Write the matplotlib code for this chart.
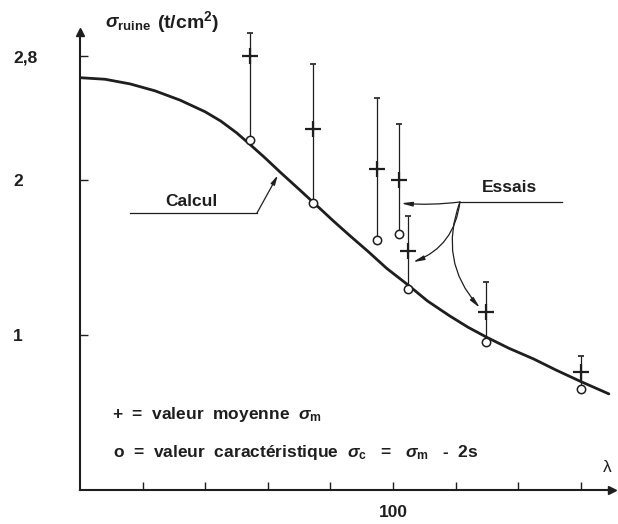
import matplotlib
matplotlib.use("Agg")
from matplotlib import pyplot as plt

plt.rcParams['font.family'] = ['Liberation Sans', 'DejaVu Sans']
plt.rcParams['font.weight'] = 'bold'
plt.rcParams['mathtext.fontset'] = 'custom'
plt.rcParams['mathtext.rm'] = 'Liberation Sans:bold'
plt.rcParams['mathtext.it'] = 'Liberation Sans:italic'
plt.rcParams['mathtext.bf'] = 'Liberation Sans:bold'

ink = '#1e1e1e'
fs = 12.5

# courbe "Calcul" (lambda, sigma ruine)
calc_lam = [0, 8, 16, 24, 32, 40, 45, 50, 54, 59, 64, 70, 77, 81, 86, 92, 98, 105, 111, 118, 124, 130, 137, 145, 152, 160, 169]
calc_sig = [2.66, 2.65, 2.62, 2.575, 2.515, 2.44, 2.38, 2.305, 2.235, 2.145, 2.05, 1.94, 1.81, 1.735, 1.645, 1.54, 1.43, 1.32, 1.22, 1.125, 1.05, 0.985, 0.915, 0.845, 0.775, 0.70, 0.62]

# essais
ess_lam = [54.3, 74.4, 94.9, 101.9, 104.8, 129.7, 160.1]
ess_moy = [2.80, 2.33, 2.07, 2.00, 1.54, 1.15, 0.76]   # +
ess_car = [2.26, 1.85, 1.61, 1.65, 1.30, 0.955, 0.65]  # o
ess_max = [2.95, 2.75, 2.53, 2.36, 1.77, 1.34, 0.865]

x_ticks = [20, 40, 60, 80, 100, 120, 140, 160]
x_labels = ['', '', '', '', '100', '', '', '']
y_ticks = [1, 2, 2.8]
y_labels = ['1', '2', '2,8']

fig = plt.figure(figsize=(6.18, 5.24), dpi=100)
ax = fig.add_axes([80/618, 34/524, 532/618, 458/524])
ax.set_xlim(0, 170)
ax.set_ylim(0, 458/155)

for s in ['top', 'right']:
    ax.spines[s].set_visible(False)
for s in ['left', 'bottom']:
    ax.spines[s].set_linewidth(1.5)
    ax.spines[s].set_color(ink)
ax.plot(1, 0, '>', color=ink, ms=6, transform=ax.transAxes, clip_on=False)
ax.plot(0, 1, '^', color=ink, ms=6, transform=ax.transAxes, clip_on=False)

ax.set_xticks(x_ticks)
ax.set_xticklabels(x_labels, fontsize=fs)
ax.set_yticks(y_ticks)
ax.set_yticklabels(y_labels, fontsize=fs)
ax.tick_params(axis='x', direction='in', length=6, width=1, color=ink, pad=11, labelcolor=ink)
ax.tick_params(axis='y', direction='in', length=6, width=1, color=ink, pad=48, labelcolor=ink)
for lab in ax.get_yticklabels():
    lab.set_horizontalalignment('left')

ax.plot(calc_lam, calc_sig, color=ink, lw=2, solid_capstyle='round', solid_joinstyle='round')

ax.vlines(ess_lam, ess_car, ess_max, color=ink, lw=0.9)
ax.plot(ess_lam, ess_max, '_', color=ink, ms=4, mew=1.2)
ax.plot(ess_lam, ess_moy, '+', color=ink, ms=11, mew=1.6)
ax.plot(ess_lam, ess_car, 'o', mfc='white', mec=ink, ms=6, mew=1.1)

# annotations
ax.text(35.5, 1.86, 'Calcul', fontsize=fs, ha='center', va='center', color=ink)
ax.plot([16, 56.5], [1.785, 1.785], color=ink, lw=0.9)
ax.annotate('', xy=(63.2, 2.03), xytext=(56.5, 1.785),
            arrowprops=dict(arrowstyle='-|>,head_length=0.55,head_width=0.13', color=ink, lw=0.9, shrinkA=0, shrinkB=0))

ax.text(137.4, 1.95, 'Essais', fontsize=fs, ha='center', va='center', color=ink)
ax.plot([121.4, 154], [1.858, 1.858], color=ink, lw=0.9)
for end, rad in [((102.6, 1.85), -0.05), ((106.4, 1.47), -0.3), ((127.8, 1.175), 0.3)]:
    ax.annotate('', xy=end, xytext=(121.4, 1.858),
                arrowprops=dict(arrowstyle='-|>,head_length=0.65,head_width=0.13', color=ink, lw=0.9,
                                shrinkA=0, shrinkB=0, connectionstyle='arc3,rad=%s' % rad))

ax.text(10.2, 0.484, r'+  =  valeur  moyenne  $\sigma_{\mathbf{m}}$', fontsize=fs, va='center', color=ink)
ax.text(10.6, 0.239, r'o  =  valeur  caractéristique  $\sigma_{\mathbf{c}}$   =   $\sigma_{\mathbf{m}}$   -  2s',
        fontsize=fs, va='center', color=ink)

fig.text(105/618, 1 - 23/524, r'$\sigma_{\mathbf{ruine}}$', fontsize=13.5, va='center', color=ink)
fig.text(157/618, 1 - 22/524, r'(t/cm$^{\mathbf{2}}$)', fontsize=14, va='center', color=ink)
ax.text(1.0, 15/458, 'λ', fontsize=fs, fontweight='normal', transform=ax.transAxes,
        ha='right', va='bottom', color=ink)

fig.savefig('out.png', dpi=100)
